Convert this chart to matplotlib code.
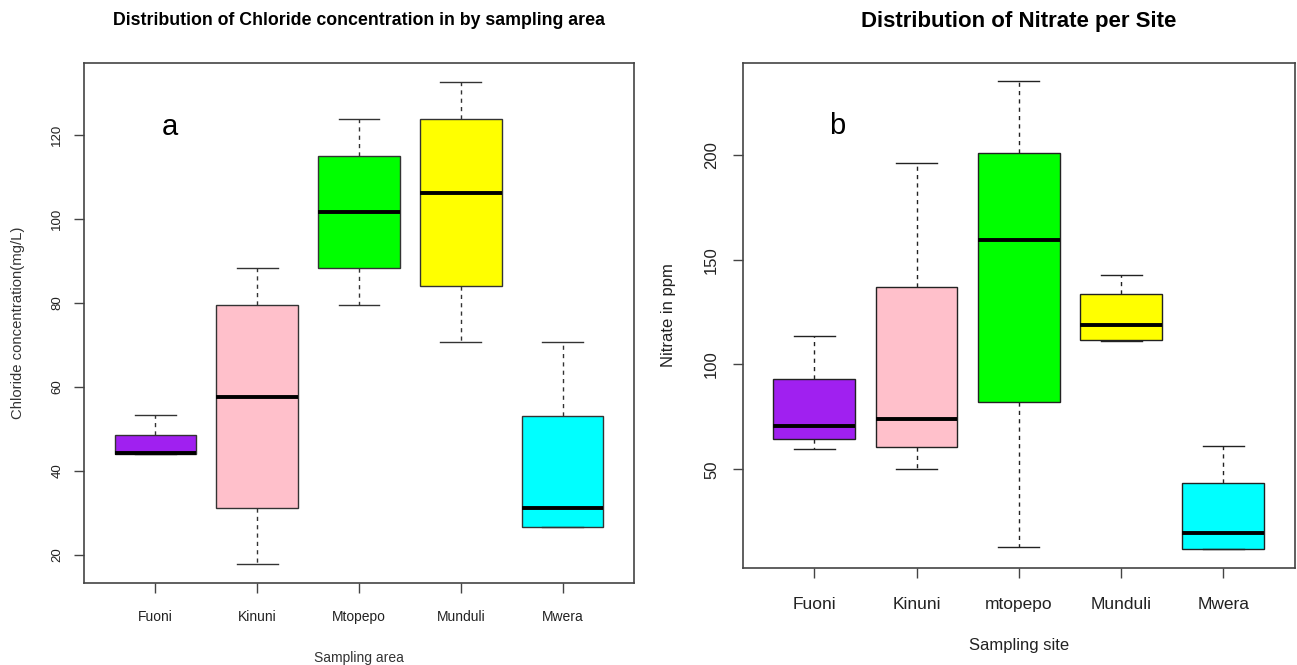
import matplotlib
matplotlib.use("Agg")
import matplotlib.pyplot as plt

plt.rcParams['font.family'] = ['Liberation Sans', 'DejaVu Sans']

# panel a: chloride (mg/L), five-number summaries
cl_sites = ["Fuoni", "Kinuni", "Mtopepo", "Munduli", "Mwera"]
cl_lo = [44.0, 17.8, 79.6, 70.8, 26.5]
cl_q1 = [44.0, 31.1, 88.3, 84.1, 26.5]
cl_med = [44.3, 57.5, 101.7, 106.2, 31.1]
cl_q3 = [48.6, 79.6, 115.0, 123.8, 53.1]
cl_hi = [53.3, 88.4, 123.8, 132.7, 70.8]

# panel b: nitrate (ppm)
no3_sites = ["Fuoni", "Kinuni", "mtopepo", "Munduli", "Mwera"]
no3_lo = [59.5, 50.0, 12.9, 111.1, 12.0]
no3_q1 = [64.3, 60.8, 82.2, 111.9, 12.2]
no3_med = [70.6, 74.1, 159.5, 119.0, 19.5]
no3_q3 = [93.0, 136.8, 201.0, 133.8, 43.3]
no3_hi = [113.6, 196.3, 235.0, 142.9, 61.1]

box_colors = ["#A020F0", "#FFC0CB", "#00FF00", "#FFFF00", "#00FFFF"]


def make_stats(lo, q1, med, q3, hi):
    return [dict(whislo=a, q1=b, med=c, q3=d, whishi=e, fliers=[])
            for a, b, c, d, e in zip(lo, q1, med, q3, hi)]


def r_boxplot(ax, stats, names, edge, xfs, yfs, pad_y, pad_x):
    bp = ax.bxp(stats, positions=range(1, len(stats) + 1), widths=0.8,
                patch_artist=True, showfliers=False,
                boxprops=dict(edgecolor=edge, linewidth=1.0),
                medianprops=dict(color="black", linewidth=2.8, solid_capstyle="butt"),
                whiskerprops=dict(color=edge, linewidth=1.0, linestyle=(0, (3, 3))),
                capprops=dict(color=edge, linewidth=1.0),
                capwidths=0.4)
    for patch, c in zip(bp["boxes"], box_colors):
        patch.set_facecolor(c)
    # R style: 4% padding around the data range
    ax.set_xlim(0.3, len(stats) + 0.7)
    lo = min(s["whislo"] for s in stats)
    hi = max(s["whishi"] for s in stats)
    rng = hi - lo
    ax.set_ylim(lo - 0.04 * rng, hi + 0.04 * rng)
    ax.set_xticks(range(1, len(stats) + 1))
    ax.set_xticklabels(names)
    ax.tick_params(axis="x", direction="out", length=7, width=1, color="#444",
                   labelsize=xfs, pad=pad_x, labelcolor="#222")
    ax.tick_params(axis="y", direction="out", length=7, width=1, color="#444",
                   labelsize=yfs, pad=pad_y, labelcolor="#222")
    for sp in ax.spines.values():
        sp.set_color("#444")
        sp.set_linewidth(1.2)


def rotate_yticks(ax):
    for lab in ax.get_yticklabels():
        lab.set_rotation(90)
        lab.set_va("center")


fig = plt.figure(figsize=(12.97, 6.65), dpi=100)

ax1 = fig.add_axes([0.0648, 0.1229, 0.4240, 0.7828])
r_boxplot(ax1, make_stats(cl_lo, cl_q1, cl_med, cl_q3, cl_hi), cl_sites, "#333", 10, 9.5, 8, 12)
ax1.set_yticks([20, 40, 60, 80, 100, 120])
rotate_yticks(ax1)
ax1.set_title("Distribution of Chloride concentration in by sampling area",
              fontsize=12.8, fontweight="bold", pad=27)
ax1.set_ylabel("Chloride concentration(mg/L)", fontsize=10.7, color="#333")
ax1.yaxis.set_label_coords(-0.107, 0.5)
ax1.set_xlabel("Sampling area", fontsize=10, color="#333")
ax1.xaxis.set_label_coords(0.5, -0.13)
ax1.text(0.156, 0.876, "a", transform=ax1.transAxes, fontsize=21,
         ha="center", va="center")

ax2 = fig.add_axes([0.5726, 0.1463, 0.4258, 0.7594])
r_boxplot(ax2, make_stats(no3_lo, no3_q1, no3_med, no3_q3, no3_hi), no3_sites, "#222", 12.5, 12, 10, 14)
ax2.set_yticks([50, 100, 150, 200])
rotate_yticks(ax2)
ax2.set_title("Distribution of Nitrate per Site", fontsize=16,
              fontweight="bold", pad=26)
ax2.set_ylabel("Nitrate in ppm", fontsize=12, color="#222")
ax2.yaxis.set_label_coords(-0.12, 0.5)
ax2.set_xlabel("Sampling site", fontsize=12, color="#222")
ax2.xaxis.set_label_coords(0.5, -0.14)
ax2.text(0.171, 0.875, "b", transform=ax2.transAxes, fontsize=21,
         ha="center", va="center")

fig.savefig("out.png", dpi=100)
